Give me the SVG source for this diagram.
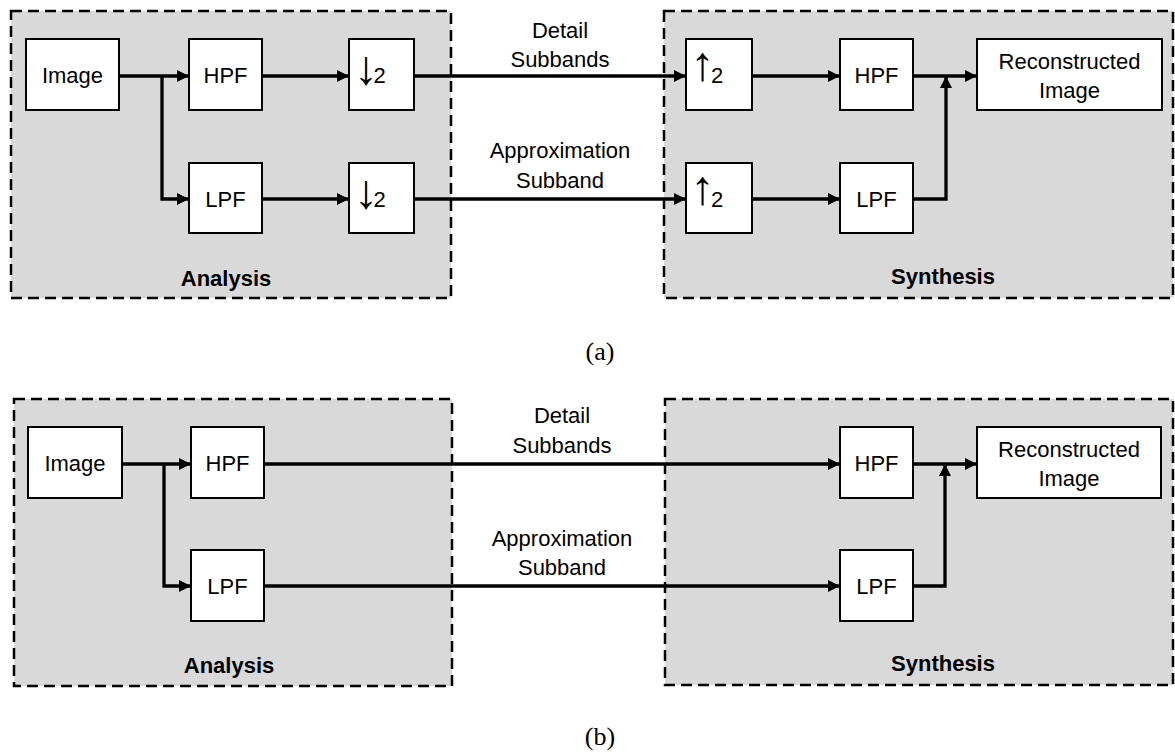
<svg xmlns="http://www.w3.org/2000/svg" width="1175" height="754" viewBox="0 0 1175 754">
  <defs>
    <marker id="arrow" markerUnits="userSpaceOnUse" markerWidth="13" markerHeight="13" refX="12" refY="6.5" orient="auto">
      <path d="M0,0.5 L12,6.5 L0,12.5 Z" fill="#000"/>
    </marker>
    <style>
      .stage { fill: #d9d9d9; stroke: #000; stroke-width: 2.5; stroke-dasharray: 11 6; }
      .block { fill: #fff; stroke: #000; stroke-width: 2; }
      .lbl { font-family: "Liberation Sans", Arial, sans-serif; font-size: 22px; fill: #000; text-anchor: middle; }
      .num { font-family: "Liberation Sans", Arial, sans-serif; font-size: 22px; fill: #000; text-anchor: start; }
      .title { font-family: "Liberation Sans", Arial, sans-serif; font-size: 22px; font-weight: bold; fill: #000; text-anchor: middle; }
      .cap { font-family: "Liberation Serif", "Times New Roman", serif; font-size: 26px; fill: #000; text-anchor: middle; }
      .rate { font-family: "Liberation Sans", Arial, sans-serif; fill: #000; text-anchor: start; }
      .sym { font-size: 48px; }
      .wire { fill: none; stroke: #000; stroke-width: 3.3; }
      .wire.arr { marker-end: url(#arrow); }
    </style>
  </defs>

  <rect width="1175" height="754" fill="#fff"/>

  <!-- ===== (a) with down/up sampling ===== -->
  <g id="a-analysis">
    <rect class="stage" x="11" y="11" width="440" height="287"/>
    <text class="title" x="226" y="286">Analysis</text>
  </g>
  <g id="a-synthesis">
    <rect class="stage" x="664" y="11" width="509" height="287"/>
    <text class="title" x="943" y="284">Synthesis</text>
  </g>

  <g id="a-image">
    <rect class="block" x="26" y="39" width="93" height="71"/>
    <text class="lbl" x="72.5" y="83">Image</text>
  </g>
  <g id="a-hpf">
    <rect class="block" x="189" y="39" width="73" height="71"/>
    <text class="lbl" x="225.5" y="83">HPF</text>
  </g>
  <g id="a-lpf">
    <rect class="block" x="189" y="163" width="73" height="70"/>
    <text class="lbl" x="225.5" y="207">LPF</text>
  </g>
  <!-- rate changers: large arrow glyph followed by the factor -->
  <g id="a-down-h">
    <rect class="block" x="349" y="39" width="65" height="71"/>
    <text class="rate" x="354" y="84"><tspan class="sym">↓</tspan><tspan class="num" x="373.5" y="83">2</tspan></text>
  </g>
  <g id="a-down-l">
    <rect class="block" x="349" y="163" width="65" height="70"/>
    <text class="rate" x="354" y="208"><tspan class="sym">↓</tspan><tspan class="num" x="373.5" y="207">2</tspan></text>
  </g>
  <g id="a-up-h">
    <rect class="block" x="686" y="39" width="66" height="71"/>
    <text class="rate" x="690.5" y="80"><tspan class="sym">↑</tspan><tspan class="num" x="711" y="83">2</tspan></text>
  </g>
  <g id="a-up-l">
    <rect class="block" x="686" y="163" width="66" height="70"/>
    <text class="rate" x="690.5" y="204"><tspan class="sym">↑</tspan><tspan class="num" x="711" y="207">2</tspan></text>
  </g>
  <g id="a-hpf-syn">
    <rect class="block" x="840" y="39" width="73" height="71"/>
    <text class="lbl" x="876.5" y="83">HPF</text>
  </g>
  <g id="a-lpf-syn">
    <rect class="block" x="840" y="163" width="73" height="70"/>
    <text class="lbl" x="876.5" y="207">LPF</text>
  </g>
  <g id="a-recon">
    <rect class="block" x="977" y="39" width="185" height="71"/>
    <text class="lbl" x="1069.5" y="69">Reconstructed</text>
    <text class="lbl" x="1069.5" y="98">Image</text>
  </g>

  <g id="a-connectors">
    <path class="wire arr" d="M119,76 H189"/>
    <path class="wire arr" d="M162,76 V199 H189"/>
    <path class="wire arr" d="M262,76 H349"/>
    <path class="wire arr" d="M262,199 H349"/>
    <path class="wire arr" d="M414,76 H686"/>
    <path class="wire arr" d="M414,199 H686"/>
    <path class="wire arr" d="M752,76 H840"/>
    <path class="wire arr" d="M752,199 H840"/>
    <path class="wire arr" d="M913,76 H977"/>
    <path class="wire arr" d="M913,199 H946 V76"/>
    <text class="lbl" x="560" y="38">Detail</text>
    <text class="lbl" x="560" y="67">Subbands</text>
    <text class="lbl" x="560" y="158">Approximation</text>
    <text class="lbl" x="560" y="188">Subband</text>
  </g>

  <text class="cap" x="600" y="360">(a)</text>

  <!-- ===== (b) without sampling ===== -->
  <g id="b-analysis">
    <rect class="stage" x="14" y="399" width="438" height="287"/>
    <text class="title" x="229" y="673">Analysis</text>
  </g>
  <g id="b-synthesis">
    <rect class="stage" x="665" y="399" width="508" height="286"/>
    <text class="title" x="943" y="671">Synthesis</text>
  </g>

  <g id="b-image">
    <rect class="block" x="28" y="427" width="94" height="71"/>
    <text class="lbl" x="75" y="471">Image</text>
  </g>
  <g id="b-hpf">
    <rect class="block" x="191" y="427" width="73" height="71"/>
    <text class="lbl" x="227.5" y="471">HPF</text>
  </g>
  <g id="b-lpf">
    <rect class="block" x="191" y="550" width="73" height="71"/>
    <text class="lbl" x="227.5" y="594">LPF</text>
  </g>
  <g id="b-hpf-syn">
    <rect class="block" x="840" y="427" width="73" height="71"/>
    <text class="lbl" x="876.5" y="471">HPF</text>
  </g>
  <g id="b-lpf-syn">
    <rect class="block" x="840" y="550" width="73" height="71"/>
    <text class="lbl" x="876.5" y="594">LPF</text>
  </g>
  <g id="b-recon">
    <rect class="block" x="977" y="427" width="184" height="71"/>
    <text class="lbl" x="1069" y="457">Reconstructed</text>
    <text class="lbl" x="1069" y="486">Image</text>
  </g>

  <g id="b-connectors">
    <path class="wire arr" d="M122,464 H191"/>
    <path class="wire arr" d="M164,464 V586 H191"/>
    <path class="wire arr" d="M264,464 H840"/>
    <path class="wire arr" d="M264,586 H840"/>
    <path class="wire arr" d="M913,464 H977"/>
    <path class="wire arr" d="M913,586 H945 V464"/>
    <text class="lbl" x="562" y="423">Detail</text>
    <text class="lbl" x="562" y="453">Subbands</text>
    <text class="lbl" x="562" y="546">Approximation</text>
    <text class="lbl" x="562" y="575">Subband</text>
  </g>

  <text class="cap" x="600" y="745">(b)</text>
</svg>
